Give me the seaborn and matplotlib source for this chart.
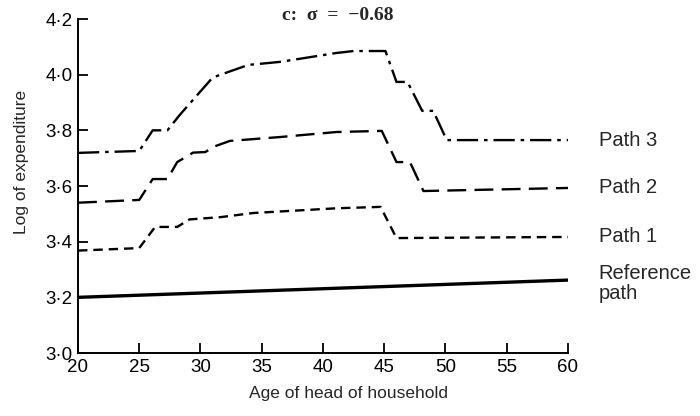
import matplotlib
matplotlib.use('Agg')
import matplotlib.pyplot as plt
from matplotlib.ticker import FuncFormatter
import numpy as np
import pandas as pd
import seaborn as sns

# values
ref_age=[20,60]
ref_val=[3.200,3.262]

path1_age=[20,25,26.3,28.1,29.1,31.6,34.3,41.1,44.7,46.0,60]
path1_val=[3.368,3.377,3.453,3.453,3.480,3.488,3.503,3.520,3.525,3.413,3.417]

path2_age=[20,25,26.1,27.3,28.1,29.4,30.4,31.0,32.4,36.5,41.1,44.8,46.0,47.1,48.2,60]
path2_val=[3.540,3.550,3.625,3.625,3.686,3.720,3.722,3.740,3.762,3.776,3.794,3.798,3.686,3.686,3.582,3.593]

path3_age=[20,25,26.1,27.3,28.3,31.0,33.9,36.5,41.1,42.5,45.1,46.0,46.9,48.1,49.0,50.1,60]
path3_val=[3.719,3.726,3.800,3.800,3.855,3.990,4.035,4.046,4.078,4.085,4.085,3.974,3.974,3.870,3.870,3.765,3.765]

path_names=['Reference\npath','Path 1','Path 2','Path 3']
yticks=[3.0,3.2,3.4,3.6,3.8,4.0,4.2]
xticks=[20,25,30,35,40,45,50,55,60]

frames=[]
for name,ages,vals in zip(path_names,[ref_age,path1_age,path2_age,path3_age],[ref_val,path1_val,path2_val,path3_val]):
    frames.append(pd.DataFrame({'Age':ages,'Log':vals,'path':name}))
df=pd.concat(frames,ignore_index=True)

sns.set_style('ticks')
plt.rcParams['font.family']=['Liberation Sans','DejaVu Sans']

fig=plt.figure(figsize=(7,4.16),dpi=100)
ax=fig.add_axes([0.1114,0.1514,0.7,0.8029])

dashes={'Reference\npath':'','Path 1':(4,2.5),'Path 2':(8,3.5),'Path 3':(9,2.5,1.5,2.5)}
sizes={'Reference\npath':2.4,'Path 1':1.7,'Path 2':1.7,'Path 3':1.7}
sns.lineplot(data=df,x='Age',y='Log',hue='path',style='path',size='path',
             palette={n:'black' for n in path_names},dashes=dashes,sizes=sizes,
             legend=False,ax=ax,sort=False)

ax.set_xlim(20,60)
ax.set_ylim(3.0,4.2)
ax.set_xticks(xticks)
ax.set_yticks(yticks)
ax.yaxis.set_major_formatter(FuncFormatter(lambda v,p:f'{v:.1f}'.replace('.','\u00b7')))
ax.tick_params(direction='in',length=7,width=1.3,labelsize=13.5,colors='black',pad=4)
for s in ['left','bottom']:
    ax.spines[s].set_linewidth(1.4)
    ax.spines[s].set_color('black')
sns.despine(ax=ax)

ax.set_xlabel('Age of head of household',fontsize=12.5)
ax.set_ylabel('Log of expenditure',fontsize=12.5)
ax.xaxis.set_label_coords(0.553,-0.099)
ax.yaxis.set_label_coords(-0.100,0.572)

# end labels
label_y={'Path 3':3.765,'Path 2':3.593,'Path 1':3.417,'Reference\npath':3.25}
for name in path_names:
    ax.text(62.5,label_y[name],name,fontsize=14.5,va='center',ha='left',clip_on=False,linespacing=1.05)

ax.text(0.53,1.012,'c:  \u03c3  =  \u22120.68',transform=ax.transAxes,ha='center',va='center',
        fontsize=14,fontweight='bold',family=['Liberation Serif','DejaVu Serif'])

plt.savefig('out.png',dpi=100)
